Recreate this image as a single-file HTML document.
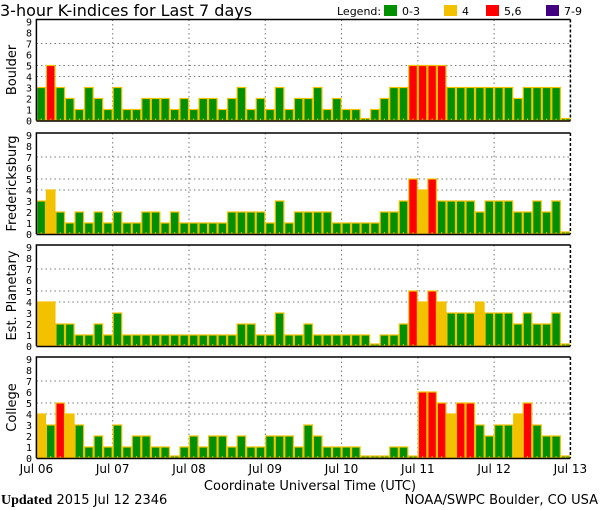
<!DOCTYPE html>
<html><head><meta charset="utf-8"><style>
body{margin:0;background:#fff;}
svg{display:block;font-family:"DejaVu Sans Mono","Liberation Mono",monospace;}
</style></head><body>
<svg id="chart" width="600" height="510" viewBox="0 0 600 510">
<text x="0" y="16" font-size="16" font-family="DejaVu Sans, sans-serif">3-hour K-indices for Last 7 days</text>
<g font-size="11" font-family="DejaVu Sans, sans-serif">
<text x="337" y="15">Legend:</text>
<rect x="384" y="5" width="13" height="11" fill="#009000"/>
<text x="402" y="15">0-3</text>
<rect x="444" y="5" width="13" height="11" fill="#f2c200"/>
<text x="462" y="15">4</text>
<rect x="486" y="5" width="13" height="11" fill="#ff0000"/>
<text x="504" y="15">5,6</text>
<rect x="546" y="5" width="13" height="11" fill="#400080"/>
<text x="564" y="15">7-9</text>
</g>
<text x="310" y="490" font-size="13" text-anchor="middle" font-family="DejaVu Sans, sans-serif">Coordinate Universal Time (UTC)</text>
<text x="1" y="504" font-size="14" font-family="Liberation Serif, serif"><tspan font-weight="bold">Updated</tspan><tspan font-family="DejaVu Sans, sans-serif" font-size="13"> 2015 Jul 12 2346</tspan></text>
<text x="598" y="504" font-size="13" text-anchor="end" font-family="DejaVu Sans, sans-serif">NOAA/SWPC Boulder, CO USA</text>
</svg>
<script>
const stations = ["Boulder","Fredericksburg","Est. Planetary","College"];
const boulder = [3,5,3,2,1,3,2,1, 3,1,1,2,2,2,1,2, 1,2,2,1,2,3,1,2, 1,3,1,2,2,3,1,2, 1,1,0,1,2,3,3,5, 5,5,5,3,3,3,3,3, 3,3,2,3,3,3,3,0];
const fredericksburg = [3,4,2,1,2,1,2,1, 2,1,1,2,2,1,2,1, 1,1,1,1,2,2,2,2, 1,3,1,2,2,2,2,1, 1,1,1,1,2,2,3,5, 4,5,3,3,3,3,2,3, 3,3,2,2,3,2,3,0];
const planetary = [4,4,2,2,1,1,2,1, 3,1,1,1,1,1,1,1, 1,1,1,1,1,2,2,1, 1,3,1,1,2,1,1,1, 1,1,1,0,1,1,2,5, 4,5,4,3,3,3,4,3, 3,3,2,3,2,2,3,0];
const college = [4,3,5,4,3,1,2,1, 3,1,2,2,1,1,0,1, 2,1,2,2,1,2,1,1, 2,2,2,1,3,2,1,1, 1,1,0,0,0,1,1,0, 6,6,5,4,5,5,3,2, 3,3,4,5,3,2,2,0];
const series = [boulder, fredericksburg, planetary, college];
const dayLabels = ["Jul 06","Jul 07","Jul 08","Jul 09","Jul 10","Jul 11","Jul 12","Jul 13"];
const yTicks = [0,1,2,3,4,5,6,7,8,9];

const NS="http://www.w3.org/2000/svg";
const svg=document.getElementById('chart');
const X0=36.4, X1=570.4, NB=56, BW=(X1-X0)/NB;
const bases=[120.5,234,346,458], UNIT=11, PH=101;
function xScale(i){return X0+i*BW;}
function yScale(v,p){return bases[p]-v*UNIT;}
function mk(t,a){const e=document.createElementNS(NS,t);for(const k in a)e.setAttribute(k,a[k]);return e;}
function color(v){return v<=3?'#009000':v==4?'#f2c200':v<=6?'#ff0000':'#400080';}

series.forEach((vals,p)=>{
  const g=mk('g',{});
  
  
  svg.appendChild(g);
  const top=bases[p]-PH;
  [4,5,7].forEach(v=>{
    const l=mk('line',{x1:X0,x2:X1,y1:yScale(v,p),y2:yScale(v,p),stroke:'#777','stroke-dasharray':'1.5,3'});
    
    
    g.appendChild(l);
  });
  for(let d=1;d<7;d++){
    const x=xScale(d*8);
    const l=mk('line',{x1:x,x2:x,y1:top,y2:bases[p],stroke:'#777','stroke-dasharray':'1.5,3'});
    
    
    g.appendChild(l);
  }
  vals.forEach((v,i)=>{
    const h=v===0?2:v*UNIT;
    const r=mk('rect',{x:xScale(i)+0.5,y:bases[p]-h,width:BW-1,height:h,fill:color(v),stroke:'#f2c200','stroke-width':1.2});
    
    
    g.appendChild(r);
    const t=mk('line',{x1:xScale(i)+BW/2,x2:xScale(i)+BW/2,y1:bases[p],y2:bases[p]-2,stroke:'#f2c200'});
    
    
    g.appendChild(t);
  });
  const ax=mk('path',{d:`M${X0},${bases[p]}V${top}H${X1}`,fill:'none',stroke:'#000','stroke-width':1.5});
  
  
  g.appendChild(ax);
  const bl=mk('line',{x1:X0,x2:X1,y1:bases[p]+0.5,y2:bases[p]+0.5,stroke:'#000','stroke-width':1.5});
  
  
  g.appendChild(bl);
  const rl=mk('line',{x1:X1,x2:X1,y1:top,y2:bases[p],stroke:'#000','stroke-width':1.5,'stroke-dasharray':'3,2'});
  
  
  g.appendChild(rl);
  yTicks.forEach(v=>{
    const t=mk('text',{x:32,y:yScale(v,p)+4,'font-size':10,'text-anchor':'end'});
    t.textContent=v;
    
    
    g.appendChild(t);
  });
  const cy=bases[p]-PH/2;
  const sl=mk('text',{x:0,y:0,'font-size':13,'text-anchor':'middle','font-family':'DejaVu Sans, sans-serif',transform:`translate(16,${cy}) rotate(-90)`});
  sl.textContent=stations[p];
  
  
  g.appendChild(sl);
});
dayLabels.forEach((s,d)=>{
  const t=mk('text',{x:xScale(d*8),y:473,'font-size':12,'text-anchor':'middle','font-family':'DejaVu Sans, sans-serif'});
  t.textContent=s;
  
  
  svg.appendChild(t);
});
</script>
</body></html>
